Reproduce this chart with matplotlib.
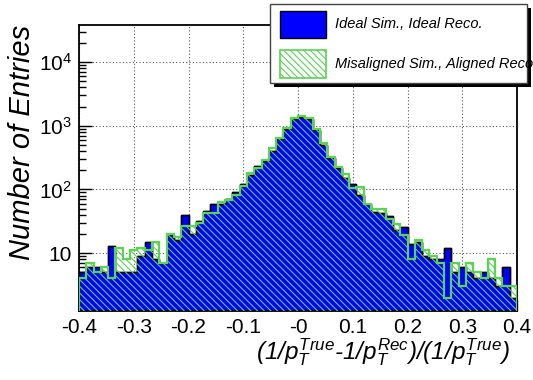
import numpy as np
import matplotlib
matplotlib.use("Agg")
import matplotlib.pyplot as plt
from matplotlib.patches import Rectangle
from matplotlib.ticker import FixedLocator, FixedFormatter, MultipleLocator, FuncFormatter, LogLocator

plt.rcParams['font.family'] = ['Liberation Sans', 'DejaVu Sans']
plt.rcParams['mathtext.fontset'] = 'custom'
plt.rcParams['mathtext.rm'] = 'Liberation Sans'
plt.rcParams['mathtext.it'] = 'Liberation Sans:italic'
plt.rcParams['hatch.linewidth'] = 0.8

# histogram contents, 60 bins between -0.4 and 0.4
x_min = -0.4
x_max = 0.4
n_bins = 60

ideal = [5, 6, 6, 5, 13, 5, 5, 5, 9, 15,
         8, 7, 19, 16, 40, 20, 32, 46, 58, 60,
         71, 90, 120, 168, 230, 278, 404, 617, 885, 1256,
         1365, 1270, 853, 501, 313, 218, 152, 120, 83, 58,
         44, 42, 38, 23, 26, 14, 15, 9, 8, 8,
         12, 5, 6, 5, 4, 5, 4, 3, 6, 2]

misaligned = [4, 7, 5, 6, 4, 12, 8, 11, 12, 11,
              15, 7, 20, 18, 27, 27, 30, 43, 42, 64,
              68, 83, 114, 182, 214, 288, 440, 646, 927, 1303,
              1416, 1330, 885, 527, 325, 226, 172, 104, 108, 60,
              49, 50, 34, 29, 19, 8, 16, 11, 9, 7,
              2, 7, 3, 7, 5, 4, 8, 4, 3, 3]

x_ticks = [-0.4, -0.3, -0.2, -0.1, 0.0, 0.1, 0.2, 0.3, 0.4]
x_tick_labels = ["-0.4", "-0.3", "-0.2", "-0.1", "-0", "0.1", "0.2", "0.3", "0.4"]
labels = ["Ideal Sim., Ideal Reco.", "Misaligned Sim., Aligned Reco."]

blue = '#0000ff'
green = '#59d454'
hatch = '\\\\\\\\\\'

W, H = 533, 380
fig = plt.figure(figsize=(W / 100, H / 100), dpi=100)
ax = fig.add_axes([79 / W, 1 - 311 / H, (517 - 79) / W, (311 - 24.5) / H])

edges = np.linspace(x_min, x_max, n_bins + 1)
ax.stairs(ideal, edges, baseline=1.0, fill=True, facecolor=blue, edgecolor='black', linewidth=1.0, zorder=2)
ax.stairs(ideal, edges, baseline=1.0, color='black', linewidth=1.0, zorder=2.1)
ax.stairs(misaligned, edges, baseline=1.0, fill=True, facecolor='none', edgecolor=green,
          hatch=hatch, linewidth=1.6, zorder=3)

ax.set_yscale('log')
ax.set_xlim(x_min, x_max)
ax.set_ylim(1.23, 3.9e4)

ax.xaxis.set_major_locator(FixedLocator(x_ticks))
ax.xaxis.set_major_formatter(FixedFormatter(x_tick_labels))
ax.xaxis.set_minor_locator(MultipleLocator(0.02))

def ylab(v, pos):
    if abs(v - 10) < 1e-6:
        return "10"
    return r'$10^{%d}$' % int(round(np.log10(v)))

ax.yaxis.set_major_locator(LogLocator(base=10, numticks=10))
ax.yaxis.set_major_formatter(FuncFormatter(ylab))
ax.yaxis.set_minor_locator(LogLocator(base=10, subs=np.arange(2, 10), numticks=20))

ax.tick_params(which='both', direction='in', top=False, right=False, width=1)
ax.tick_params(which='major', length=9, labelsize=15)
ax.tick_params(which='minor', length=5)
ax.tick_params(axis='x', pad=5)
ax.tick_params(axis='y', pad=5)

ax.grid(True, which='major', linestyle=(0, (1, 2)), color='#555555', linewidth=0.8)
ax.set_axisbelow(True)
for s in ax.spines.values():
    s.set_linewidth(1.3)

fig.text(510 / W, 1 - 359 / H, r'(1/$p_{T}^{True}$-1/$p_{T}^{Rec}$)/(1/$p_{T}^{True}$)',
         ha='right', va='baseline', fontsize=17.5, style='italic')
fig.text(22 / W, 1 - 25 / H, "Number of Entries", rotation=90, ha='center', va='top',
         fontsize=21, style='italic')

# legend box, drawn by hand in pixel positions (ROOT style with shadow)
def px_rect(x0, y0, x1, y1, **kw):
    r = Rectangle((x0 / W, 1 - y1 / H), (x1 - x0) / W, (y1 - y0) / H,
                  transform=fig.transFigure, **kw)
    fig.add_artist(r)
    return r

px_rect(274, 8, 531, 86.5, facecolor='black', edgecolor='none', zorder=10)
px_rect(270, 4, 527, 82.5, facecolor='white', edgecolor='#444444', linewidth=1, zorder=11)
px_rect(280, 11, 326, 38, facecolor=blue, edgecolor='black', linewidth=1, zorder=12)
px_rect(280, 50, 326, 78, facecolor='white', edgecolor=green, hatch=hatch, linewidth=1.2, zorder=12)
fig.text(335 / W, 1 - 24.5 / H, labels[0], ha='left', va='center', fontsize=10.5, style='italic', zorder=13)
fig.text(335 / W, 1 - 64 / H, labels[1], ha='left', va='center', fontsize=10.5, style='italic', zorder=13)

fig.savefig("out.png", dpi=100)
